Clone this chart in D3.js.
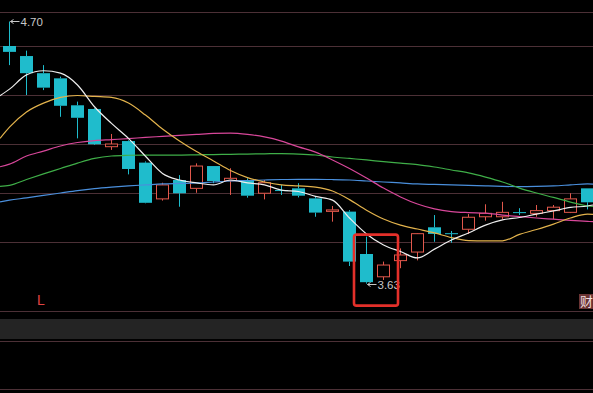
<!DOCTYPE html>
<html>
<head>
<meta charset="utf-8">
<script src="https://cdn.jsdelivr.net/npm/d3@7"></script>
<style>
  html, body { margin: 0; padding: 0; background: #000; }
  #chart { width: 593px; height: 393px; overflow: hidden; }
</style>
</head>
<body>
<div id="chart"></div>
<script>
// daily candles
const opens  = [4.600, 4.559, 4.489, 4.468, 4.358, 4.343, 4.189, 4.212, 4.124, 3.976, 4.053, 4.019, 4.110, 4.050, 4.053, 3.999, 4.012, 4.019,
                3.978, 3.925, 3.924, 3.751, 3.658, 3.724, 3.759, 3.860, 3.836, 3.852, 3.903, 3.903, 3.922, 3.917, 3.928, 3.921, 4.019];
const highs  = [4.700, 4.581, 4.522, 4.475, 4.373, 4.346, 4.241, 4.215, 4.129, 4.042, 4.073, 4.121, 4.110, 4.101, 4.060, 4.053, 4.033, 4.040,
                3.985, 3.947, 3.930, 3.822, 3.720, 3.774, 3.836, 3.910, 3.845, 3.914, 3.954, 3.964, 3.938, 3.951, 3.951, 3.999, 4.019];
const lows   = [4.522, 4.400, 4.420, 4.311, 4.223, 4.196, 4.176, 4.076, 3.958, 3.969, 3.944, 4.001, 4.040, 3.992, 3.981, 3.974, 3.992, 3.982,
                3.903, 3.883, 3.702, 3.630, 3.645, 3.693, 3.725, 3.801, 3.797, 3.833, 3.887, 3.893, 3.910, 3.903, 3.893, 3.918, 3.933];
const closes = [4.576, 4.489, 4.430, 4.356, 4.307, 4.199, 4.200, 4.098, 3.960, 4.033, 3.999, 4.110, 4.049, 4.060, 3.989, 4.042, 4.008, 3.989,
                3.920, 3.931, 3.720, 3.636, 3.706, 3.747, 3.834, 3.833, 3.834, 3.901, 3.917, 3.921, 3.920, 3.928, 3.942, 3.976, 3.962];

// moving averages at each candle
const ma5  = [4.424, 4.482, 4.499, 4.489, 4.441, 4.352, 4.284, 4.223, 4.150, 4.080, 4.053, 4.041, 4.033, 4.053, 4.041, 4.033, 4.012, 4.006,
              3.986, 3.971, 3.898, 3.833, 3.788, 3.761, 3.735, 3.771, 3.808, 3.837, 3.869, 3.890, 3.900, 3.914, 3.927, 3.941, 3.947];
const ma10 = [4.269, 4.331, 4.367, 4.390, 4.398, 4.394, 4.390, 4.367, 4.318, 4.261, 4.212, 4.169, 4.131, 4.092, 4.063, 4.045, 4.033, 4.029,
              4.024, 4.008, 3.973, 3.930, 3.894, 3.869, 3.853, 3.837, 3.818, 3.806, 3.805, 3.805, 3.831, 3.851, 3.873, 3.898, 3.914];
const ma20 = [4.118, 4.151, 4.171, 4.192, 4.206, 4.214, 4.218, 4.222, 4.227, 4.231, 4.235, 4.239, 4.243, 4.244, 4.239, 4.229, 4.212, 4.188,
              4.167, 4.135, 4.100, 4.061, 4.020, 3.984, 3.955, 3.935, 3.924, 3.920, 3.918, 3.910, 3.904, 3.898, 3.893, 3.888, 3.884];
const ma30 = [4.031, 4.055, 4.078, 4.100, 4.122, 4.141, 4.151, 4.154, 4.155, 4.155, 4.155, 4.156, 4.157, 4.158, 4.159, 4.160, 4.161, 4.159,
              4.155, 4.147, 4.141, 4.135, 4.128, 4.122, 4.116, 4.106, 4.094, 4.082, 4.065, 4.045, 4.020, 4.000, 3.982, 3.963, 3.947];
const ma60 = [3.971, 3.980, 3.990, 4.000, 4.010, 4.018, 4.024, 4.029, 4.033, 4.037, 4.039, 4.041, 4.045, 4.049, 4.051, 4.053, 4.055, 4.056,
              4.056, 4.055, 4.053, 4.049, 4.045, 4.041, 4.037, 4.035, 4.033, 4.031, 4.029, 4.027, 4.026, 4.027, 4.029, 4.033, 4.037];

// where each average crosses the left and right edge of the window (ma5, ma10, ma20, ma30, ma60)
const maLeftEdge  = [4.397, 4.223, 4.107, 4.027, 3.964];
const maRightEdge = [3.951, 3.913, 3.883, 3.945, 4.036];

const gridPrices = [4.60, 4.40, 4.20, 4.00, 3.80];
const boxedDays = [21, 22];

class KlineChart {
    constructor(_config) {
        this.config = {
            parentElement: _config.parentElement,
            width: 593,
            height: 393,
            priceTop: 12,
            priceBottom: 312
        };
        this.data = opens.map((o, i) => ({i: i, open: o, high: highs[i], low: lows[i], close: closes[i]}));
        const series = [ma5, ma10, ma20, ma30, ma60];
        const colors = ['#eeeeee', '#e3b34c', '#d8479a', '#3fae48', '#4a8fdc'];
        this.maLines = series.map((s, k) => ({values: s, left: maLeftEdge[k], right: maRightEdge[k], color: colors[k]})).reverse();
        this.initVis();
        this.renderVis();
    }

    initVis() {
        let vis = this;

        vis.svg = d3.select(vis.config.parentElement)
            .append('svg')
            .attr('width', vis.config.width)
            .attr('height', vis.config.height)
            .style('display', 'block')
            .style('background', '#000');

        vis.xScale = d3.scaleBand()
            .domain(d3.range(vis.data.length))
            .range([1, 596])
            .paddingInner(4 / 17)
            .paddingOuter(2 / 17);

        vis.cx = i => vis.xScale(i) + vis.xScale.bandwidth() / 2;

        // continuous index -> x, for the average lines
        vis.xIdx = d3.scaleLinear()
            .domain([0, vis.data.length - 1])
            .range([vis.cx(0), vis.cx(vis.data.length - 1)]);

        vis.yScale = d3.scaleLinear()
            .domain([3.80, 4.60])
            .range([242, 46]);
    }

    renderVis() {
        let vis = this;
        const W = vis.config.width;
        const bw = vis.xScale.bandwidth();
        const gridColor = '#4c3036';

        // frame + lower panel
        const frameYs = [vis.config.priceTop, vis.config.priceBottom - 1, 341, 389];
        vis.svg.append('rect')
            .attr('x', 0).attr('y', 319)
            .attr('width', W).attr('height', 20)
            .attr('fill', '#242424');
        vis.svg.selectAll('.frame')
            .data(frameYs)
            .enter().append('line')
            .attr('class', 'frame')
            .attr('x1', 0).attr('x2', W)
            .attr('y1', d => d + 0.5).attr('y2', d => d + 0.5)
            .attr('stroke', gridColor);

        vis.svg.selectAll('.grid')
            .data(gridPrices)
            .enter().append('line')
            .attr('class', 'grid')
            .attr('x1', 0).attr('x2', W)
            .attr('y1', d => Math.round(vis.yScale(d)) + 0.5)
            .attr('y2', d => Math.round(vis.yScale(d)) + 0.5)
            .attr('stroke', gridColor);

        const upColor = '#e2584c';
        const downColor = '#1fbccc';
        const isUp = d => d.close >= d.open;

        // wicks
        const candles = vis.svg.append('g');
        candles.selectAll('.wick')
            .data(vis.data)
            .enter().append('path')
            .attr('class', 'wick')
            .attr('fill', 'none')
            .attr('stroke', d => isUp(d) ? upColor : downColor)
            .attr('d', d => {
                const x = vis.cx(d.i);
                const top = vis.yScale(Math.max(d.open, d.close));
                const bot = vis.yScale(Math.min(d.open, d.close));
                return `M${x},${vis.yScale(d.high)}V${top}M${x},${bot}V${vis.yScale(d.low)}`;
            });

        // bodies
        candles.selectAll('.body')
            .data(vis.data)
            .enter().append('rect')
            .attr('class', 'body')
            .attr('x', d => isUp(d) ? vis.xScale(d.i) + 0.5 : vis.xScale(d.i))
            .attr('width', d => isUp(d) ? bw - 1 : bw)
            .attr('y', d => vis.yScale(Math.max(d.open, d.close)))
            .attr('height', d => Math.max(1, vis.yScale(Math.min(d.open, d.close)) - vis.yScale(Math.max(d.open, d.close))))
            .attr('fill', d => isUp(d) ? '#000' : downColor)
            .attr('stroke', d => isUp(d) ? upColor : 'none');

        // moving averages, run out to both edges
        const line = d3.line()
            .x(d => vis.xIdx(d[0]))
            .y(d => vis.yScale(d[1]))
            .curve(d3.curveMonotoneX);
        const leftIdx = vis.xIdx.invert(0);
        const rightIdx = vis.xIdx.invert(W);
        vis.svg.selectAll('.ma')
            .data(vis.maLines)
            .enter().append('path')
            .attr('class', 'ma')
            .attr('fill', 'none')
            .attr('stroke', d => d.color)
            .attr('stroke-width', 1.2)
            .attr('d', d => line([[leftIdx, d.left]].concat(d.values.map((v, i) => [i, v]), [[rightIdx, d.right]])));

        // max / min markers
        const hiIdx = d3.maxIndex(highs);
        const loIdx = d3.minIndex(lows);
        const marks = [
            {i: hiIdx, v: highs[hiIdx]},
            {i: loIdx, v: lows[loIdx]}
        ];
        const mg = vis.svg.selectAll('.mark')
            .data(marks)
            .enter().append('g')
            .attr('class', 'mark')
            .attr('transform', d => `translate(${vis.cx(d.i) + 1},${Math.round(vis.yScale(d.v)) + 0.5})`);
        mg.append('path')
            .attr('d', 'M0,0H9M0,0L3,-2M0,0L3,2')
            .attr('fill', 'none')
            .attr('stroke', '#c8c8c8');
        mg.append('text')
            .attr('x', 10)
            .attr('y', 1)
            .attr('dominant-baseline', 'middle')
            .attr('fill', '#c8c8c8')
            .attr('font-family', 'Liberation Sans, Arial, sans-serif')
            .attr('font-size', 11.5)
            .text(d => d.v.toFixed(2));

        // red highlight box
        const bx0 = vis.xScale(boxedDays[0]) - 6;
        const bx1 = vis.xScale(boxedDays[boxedDays.length - 1]) + bw + 8;
        const by0 = vis.yScale(highs[boxedDays[0]]) - 2;
        const by1 = vis.yScale(d3.min(boxedDays, i => lows[i])) + 22;
        vis.svg.append('rect')
            .attr('x', bx0).attr('y', by0)
            .attr('width', bx1 - bx0).attr('height', by1 - by0)
            .attr('rx', 2.5)
            .attr('fill', 'none')
            .attr('stroke', '#e4302a')
            .attr('stroke-width', 2.6);

        vis.svg.append('text')
            .attr('x', 37).attr('y', 305)
            .attr('fill', '#e04444')
            .attr('font-family', 'Liberation Sans, Arial, sans-serif')
            .attr('font-size', 14)
            .text('L');

        vis.svg.append('rect')
            .attr('x', 579).attr('y', 294)
            .attr('width', 16).attr('height', 15)
            .attr('fill', '#6a3434');
        vis.svg.append('text')
            .attr('x', 580).attr('y', 306)
            .attr('fill', '#f0dede')
            .attr('font-family', 'Noto Sans CJK SC, sans-serif')
            .attr('font-size', 13)
            .text('财');
    }
}

new KlineChart({parentElement: '#chart'});
</script>
</body>
</html>
